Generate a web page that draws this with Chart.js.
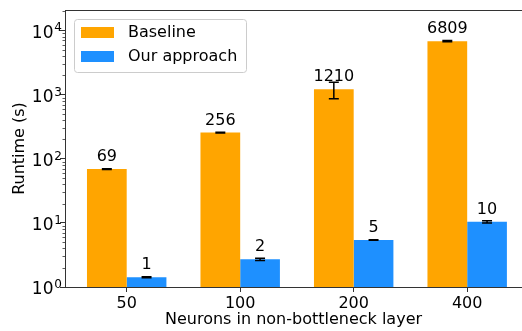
<!DOCTYPE html>
<html>
<head>
<meta charset="utf-8">
<script src="https://cdn.jsdelivr.net/npm/chart.js@4/dist/chart.umd.min.js"></script>
<style>
  html, body { margin: 0; padding: 0; background: #fff; }
  #wrap { width: 522px; height: 331px; }
</style>
</head>
<body>
<div id="wrap"><canvas id="c" width="522" height="331"></canvas></div>
<script>
// Runtime per network size, seconds (log scale)
const categories = ['50', '100', '200', '400'];
const baseline = [69, 256, 1210, 6809];
const baselineErr = [1, 4, 350, 150];
const ours = [1.42, 2.70, 5.41, 10.4];
const oursErr = [0.03, 0.1, 0.05, 0.4];
const seriesNames = ['Baseline', 'Our approach'];
const seriesColors = ['#FFA500', '#1E90FF'];
const yTicks = [1, 10, 100, 1000, 10000];
const yMin = 1;
const yMax = 20900;

const FONT = "'DejaVu Sans', 'Liberation Sans', sans-serif";
const AXIS_COLOR = '#333';

const errors = [baselineErr, oursErr];

const decorations = {
  id: 'decorations',
  afterDatasetsDraw(chart) {
    const ctx = chart.ctx;
    const y = chart.scales.y;
    chart.data.datasets.forEach((ds, di) => {
      const meta = chart.getDatasetMeta(di);
      meta.data.forEach((bar, i) => {
        const v = ds.data[i].y;
        const e = errors[di][i];
        const x = bar.x;
        const yHi = y.getPixelForValue(v + e);
        const yLo = y.getPixelForValue(v - e);
        ctx.save();
        ctx.strokeStyle = '#000';
        ctx.lineWidth = 1.5;
        ctx.beginPath();
        ctx.moveTo(x, yHi); ctx.lineTo(x, yLo);
        ctx.moveTo(x - 5, yHi); ctx.lineTo(x + 5, yHi);
        ctx.moveTo(x - 5, yLo); ctx.lineTo(x + 5, yLo);
        ctx.stroke();
        // value label above the bar
        ctx.fillStyle = '#000';
        ctx.font = '16px ' + FONT;
        ctx.textAlign = 'center';
        ctx.textBaseline = 'alphabetic';
        ctx.fillText(String(Math.floor(v)), x, y.getPixelForValue(v) - 8);
        ctx.restore();
      });
    });
  },
  afterDraw(chart) {
    const ctx = chart.ctx;
    const area = chart.chartArea;
    const y = chart.scales.y;
    ctx.save();
    // top spine
    ctx.strokeStyle = AXIS_COLOR;
    ctx.lineWidth = 1;
    ctx.beginPath();
    ctx.moveTo(area.left, area.top + 0.5);
    ctx.lineTo(area.right, area.top + 0.5);
    ctx.stroke();
    // minor ticks of the log axis
    ctx.beginPath();
    for (let d = 1; d <= yMax; d *= 10) {
      for (let m = 2; m <= 9; m++) {
        const v = d * m;
        if (v > yMax) break;
        const py = Math.round(y.getPixelForValue(v)) + 0.5;
        ctx.moveTo(area.left - 2.5, py);
        ctx.lineTo(area.left, py);
      }
    }
    ctx.lineWidth = 0.8;
    ctx.stroke();

    // power-of-ten tick labels: base plus raised exponent
    ctx.fillStyle = '#000';
    ctx.textBaseline = 'alphabetic';
    yTicks.forEach(v => {
      const py = y.getPixelForValue(v);
      const exp = String(Math.round(Math.log10(v)));
      ctx.font = '17px ' + FONT;
      ctx.textAlign = 'right';
      ctx.fillText('10', area.left - 11.5, py + 7.2);
      ctx.font = '12px ' + FONT;
      ctx.textAlign = 'left';
      ctx.fillText(exp, area.left - 10.7, py + 0.9);
    });

    // legend
    const lx = 74.5, ly = 19.5, lw = 172, lh = 53;
    ctx.beginPath();
    ctx.roundRect(lx, ly, lw, lh, 3);
    ctx.fillStyle = 'rgba(255,255,255,0.8)';
    ctx.fill();
    ctx.strokeStyle = '#cccccc';
    ctx.lineWidth = 1;
    ctx.stroke();
    ctx.font = '16px ' + FONT;
    ctx.textAlign = 'left';
    ctx.textBaseline = 'middle';
    seriesNames.forEach((name, i) => {
      const cy = 32.5 + i * 24;
      ctx.fillStyle = seriesColors[i];
      ctx.fillRect(81, cy - 5.5, 33, 11);
      ctx.fillStyle = '#000';
      ctx.fillText(name, 128, cy);
    });
    ctx.restore();
  }
};

const toPoints = arr => arr.map((v, i) => ({ x: i, y: v }));

new Chart(document.getElementById('c'), {
  type: 'bar',
  data: {
    datasets: [
      { label: seriesNames[0], data: toPoints(baseline), backgroundColor: seriesColors[0], borderWidth: 0 },
      { label: seriesNames[1], data: toPoints(ours), backgroundColor: seriesColors[1], borderWidth: 0 }
    ]
  },
  options: {
    responsive: false,
    animation: false,
    devicePixelRatio: 1,
    layout: { padding: { top: 10, left: 0, right: 0, bottom: 0 } },
    datasets: { bar: { categoryPercentage: 0.7, barPercentage: 1.0, grouped: true } },
    plugins: { legend: { display: false }, tooltip: { enabled: false } },
    scales: {
      x: {
        type: 'linear',
        offset: false,
        min: -0.5436,
        max: 3.483,
        afterBuildTicks: s => { s.ticks = categories.map((c, i) => ({ value: i })); },
        afterFit: s => { s.height = 44; },
        ticks: {
          callback: v => categories[v],
          color: '#000',
          font: { family: FONT, size: 16 },
          padding: 2,
          maxRotation: 0,
          autoSkip: false
        },
        grid: { display: true, offset: false, drawOnChartArea: false, drawTicks: true, tickLength: 5, tickColor: AXIS_COLOR },
        border: { display: true, color: AXIS_COLOR, width: 1 },
        title: {
          display: true,
          text: 'Neurons in non-bottleneck layer',
          color: '#000',
          font: { family: FONT, size: 16 },
          padding: { top: 0, bottom: 2 }
        }
      },
      y: {
        type: 'logarithmic',
        min: yMin,
        max: yMax,
        afterBuildTicks: s => { s.ticks = yTicks.map(v => ({ value: v, major: true })); },
        afterFit: s => { s.width = 65; },
        ticks: { display: false },
        grid: { display: true, offset: false, drawOnChartArea: false, drawTicks: true, tickLength: 5, tickColor: AXIS_COLOR },
        border: { display: true, color: AXIS_COLOR, width: 1 },
        title: {
          display: true,
          text: 'Runtime (s)',
          color: '#000',
          font: { family: FONT, size: 16 },
          padding: { top: 10, bottom: 0 }
        }
      }
    }
  },
  plugins: [decorations]
});
</script>
</body>
</html>
